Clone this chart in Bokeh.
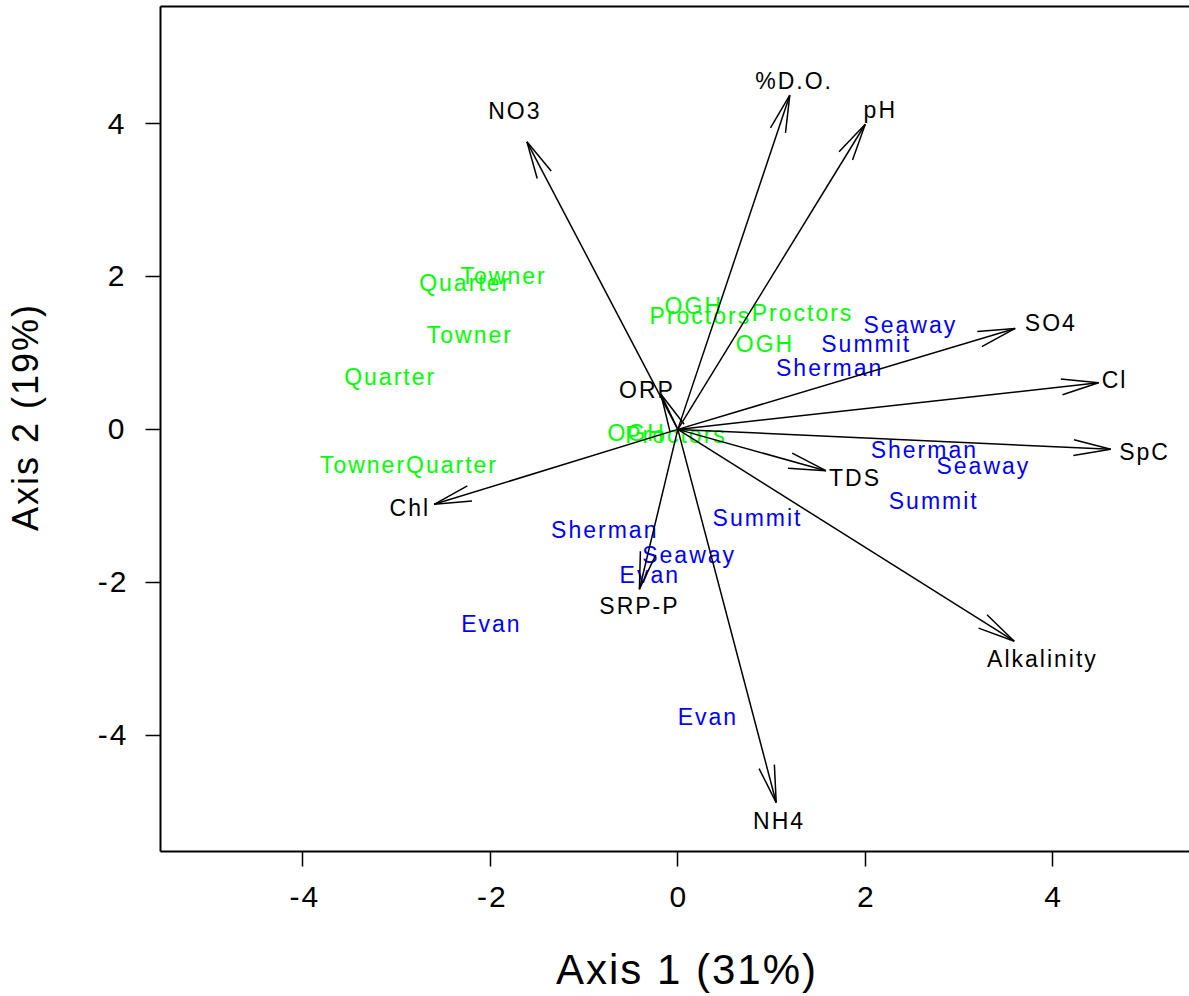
import numpy as np
from bokeh.plotting import figure
from bokeh.models import ColumnDataSource, LinearAxis, FixedTicker, Range1d, InlineStyleSheet
from bokeh.core.properties import value
from bokeh.embed import file_html
from bokeh.resources import INLINE

# ---- data ----
vec_names = ["NO3", "%D.O.", "pH", "SO4", "Cl", "SpC", "TDS", "Alkalinity", "NH4", "SRP-P", "Chl", "ORP"]
vec_x = [-1.61, 1.195, 2.00, 3.60, 4.49, 4.62, 1.58, 3.59, 1.05, -0.41, -2.60, -0.18]
vec_y = [3.76, 4.37, 3.99, 1.32, 0.61, -0.26, -0.54, -2.77, -4.88, -2.09, -0.98, 0.46]
lab_x = [-1.75, 1.23, 2.15, 3.97, 4.65, 4.97, 1.88, 3.88, 1.07, -0.42, -2.87, -0.34]
lab_y = [4.17, 4.56, 4.18, 1.39, 0.64, -0.30, -0.64, -3.00, -5.12, -2.31, -1.03, 0.52]

green_names = ["Towner", "Quarter", "Towner", "Quarter", "Towner", "Quarter",
               "OGH", "Proctors", "Proctors", "OGH", "OGH", "Proctors"]
green_x = [-1.87, -2.28, -2.23, -3.08, -3.37, -2.42, 0.16, 0.23, 1.32, 0.92, -0.45, -0.03]
green_y = [2.00, 1.91, 1.24, 0.68, -0.47, -0.46, 1.61, 1.48, 1.52, 1.12, -0.05, -0.07]

blue_names = ["Seaway", "Summit", "Sherman", "Sherman", "Seaway", "Summit",
              "Summit", "Sherman", "Seaway", "Evan", "Evan", "Evan"]
blue_x = [2.47, 2.00, 1.61, 2.62, 3.25, 2.72, 0.84, -0.79, 0.11, -0.31, -2.00, 0.31]
blue_y = [1.36, 1.12, 0.80, -0.27, -0.48, -0.94, -1.16, -1.31, -1.64, -1.90, -2.54, -3.76]

tick_vals = [-4, -2, 0, 2, 4]
tick_labels = ["-4", "-2", "0", "2", "4"]
x_title = "Axis 1 (31%)"
y_title = "Axis 2 (19%)"

# ---- layout parameters ----
W, H = 1189, 996
BL, BR, BT, BB = 160, 0, 6, 145
XR = (-5.52, 5.46)
YR = (-5.52, 5.53)
FONT = "Liberation Sans"
LS = 2  # letter spacing (px) used for the plot texts

p = figure(width=W, height=H, x_range=Range1d(*XR), y_range=Range1d(*YR),
           output_backend="svg", toolbar_location=None,
           min_border_left=BL, min_border_right=BR, min_border_top=BT, min_border_bottom=BB,
           x_axis_label=x_title, y_axis_label=y_title)
p.stylesheets = [InlineStyleSheet(css=f":host {{ letter-spacing: {LS}px; }}")]
p.grid.visible = False
p.outline_line_color = None
p.background_fill_color = "white"
p.border_fill_color = "white"

for ax in (p.xaxis[0], p.yaxis[0]):
    ax.ticker = FixedTicker(ticks=tick_vals)
    ax.major_label_overrides = dict(zip(tick_vals, tick_labels))
    ax.minor_tick_line_color = None
    ax.major_tick_in = 0
    ax.major_tick_out = 15
    ax.major_tick_line_width = 1.5
    ax.axis_line_width = 2
    ax.major_label_text_font = FONT
    ax.major_label_text_font_size = "30px"
    ax.major_label_text_color = "black"
    ax.axis_label_text_font = FONT
    ax.axis_label_text_font_style = "normal"
    ax.axis_label_text_color = "black"

p.xaxis[0].major_label_standoff = 20
p.xaxis[0].axis_label_standoff = 36
p.xaxis[0].axis_label_text_font_size = "42px"
p.yaxis[0].major_label_standoff = 21
p.yaxis[0].axis_label_standoff = 49
p.yaxis[0].axis_label_text_font_size = "36px"

top_ax = LinearAxis(ticker=FixedTicker(ticks=[]), axis_line_width=2,
                    major_tick_line_color=None, minor_tick_line_color=None,
                    major_label_text_font_size="0px", major_label_standoff=0,
                    major_tick_out=0, major_tick_in=0)
p.add_layout(top_ax, "above")

sx = (W - BL - BR) / (XR[1] - XR[0])
sy = (H - BT - BB) / (YR[1] - YR[0])


def centre_fix(names):
    # letter spacing pushes centred text to the right; pull it back
    return [-(len(t) - 1) * LS / 2 for t in names]


# ---- site labels ----
gsrc = ColumnDataSource(dict(x=green_x, y=green_y, t=green_names, o=centre_fix(green_names)))
bsrc = ColumnDataSource(dict(x=blue_x, y=blue_y, t=blue_names, o=centre_fix(blue_names)))
for src, col in ((gsrc, "#00FF00"), (bsrc, "#0000FF")):
    p.text(x="x", y="y", text="t", source=src, text_color=col, x_offset="o",
           text_font=value(FONT), text_font_size="23px",
           text_align="center", text_baseline="middle")

# ---- vectors ----
vx = np.array(vec_x)
vy = np.array(vec_y)
p.segment(x0=np.zeros_like(vx), y0=np.zeros_like(vy), x1=vx, y1=vy,
          line_color="black", line_width=1.5)

# open arrow heads (narrow, long barbs)
dpx = np.stack([vx * sx, vy * sy], axis=1)
u = dpx / np.linalg.norm(dpx, axis=1, keepdims=True)
L = 38.0
ang = np.deg2rad(12)
hx0, hy0, hx1, hy1 = [], [], [], []
for (ux, uy), tx, ty in zip(u, vx, vy):
    bxr, byr = -ux, -uy
    for a in (ang, -ang):
        rx = bxr * np.cos(a) - byr * np.sin(a)
        ry = bxr * np.sin(a) + byr * np.cos(a)
        hx0.append(tx); hy0.append(ty)
        hx1.append(tx + L * rx / sx); hy1.append(ty + L * ry / sy)
p.segment(x0=hx0, y0=hy0, x1=hx1, y1=hy1, line_color="black", line_width=1.5)

vsrc = ColumnDataSource(dict(x=lab_x, y=lab_y, t=vec_names, o=centre_fix(vec_names)))
p.text(x="x", y="y", text="t", source=vsrc, text_color="black", x_offset="o",
       text_font=value(FONT), text_font_size="23px",
       text_align="center", text_baseline="middle")

open("out.html", "w").write(file_html(p, INLINE))
